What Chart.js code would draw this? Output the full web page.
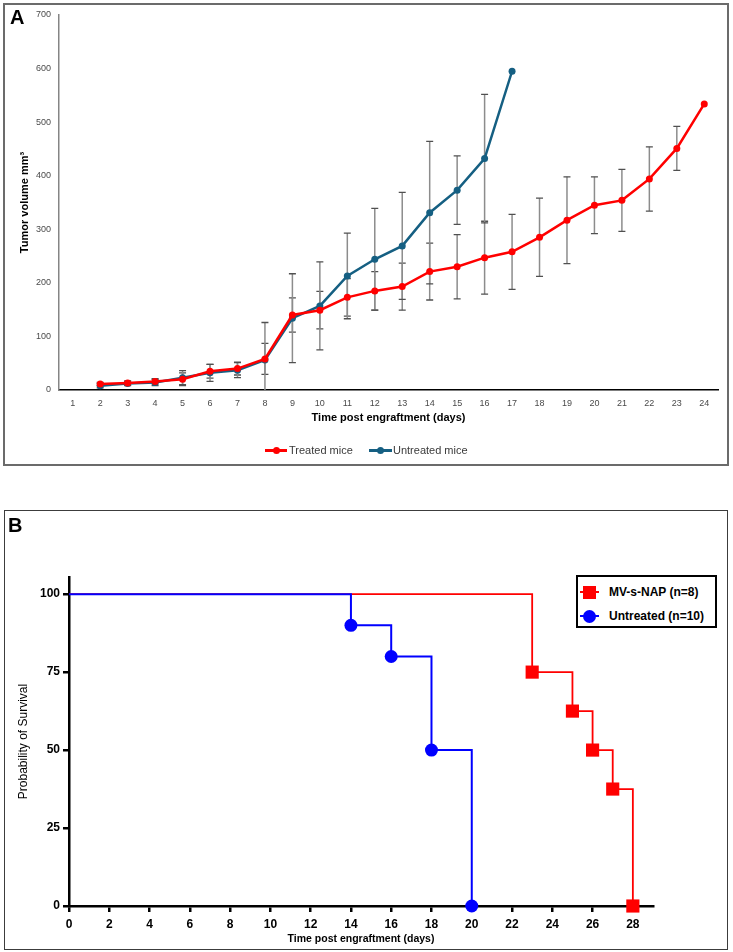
<!DOCTYPE html>
<html>
<head>
<meta charset="utf-8">
<script src="https://cdn.jsdelivr.net/npm/chart.js@4.4.1/dist/chart.umd.min.js"></script>
<style>
body { margin: 0; background: #fff; }
#page { position: relative; width: 733px; height: 952px; font-family: 'Liberation Sans', Arial, sans-serif; overflow: hidden; }
.box { position: absolute; box-sizing: border-box; }
#boxA { left: 3px; top: 3px; width: 726px; height: 463px; border: 2px solid #6b6b6b; }
#boxB { left: 4px; top: 510px; width: 724px; height: 440px; border: 1.5px solid #3c3c3c; }
canvas { position: absolute; left: 0; }
#chartA { top: 0; }
#chartB { top: 490px; }
.letter { position: absolute; font: bold 20px 'Liberation Sans', Arial, sans-serif; line-height: 20px; color: #000; }
.lgA { position: absolute; font-size: 11px; line-height: 14px; color: #3a3a3a; white-space: nowrap; }
.seg { position: absolute; height: 2.5px; }
.dot { position: absolute; width: 7px; height: 7px; border-radius: 50%; }
#legB { position: absolute; left: 576px; top: 575px; width: 141px; height: 53px; box-sizing: border-box; border: 2px solid #000; background: #fff; }
.lgB { position: absolute; font-weight: bold; font-size: 12px; line-height: 14px; color: #000; white-space: nowrap; }
</style>
</head>
<body>
<div id="page">
  <div class="box" id="boxA"></div>
  <div class="box" id="boxB"></div>
  <canvas id="chartA" width="733" height="470"></canvas>
  <canvas id="chartB" width="733" height="460"></canvas>
  <div class="letter" style="left:10px;top:7px">A</div>
  <div class="letter" style="left:8px;top:515px">B</div>

  <!-- legend panel A -->
  <div class="seg" style="left:265px;top:449px;width:22px;background:#ff0000"></div>
  <div class="dot" style="left:272.5px;top:446.8px;background:#ff0000"></div>
  <div class="lgA" style="left:289px;top:443px">Treated mice</div>
  <div class="seg" style="left:369px;top:449px;width:23px;background:#155f82"></div>
  <div class="dot" style="left:377px;top:446.8px;background:#155f82"></div>
  <div class="lgA" style="left:393px;top:443px">Untreated mice</div>

  <!-- legend panel B -->
  <div id="legB"></div>
  <div class="seg" style="left:580px;top:591px;width:19px;height:2px;background:#ff0000"></div>
  <div style="position:absolute;left:583px;top:585.5px;width:13px;height:13px;background:#ff0000"></div>
  <div class="lgB" style="left:609px;top:585px">MV-s-NAP (n=8)</div>
  <div class="seg" style="left:580px;top:615px;width:19px;height:2px;background:#0000ff"></div>
  <div style="position:absolute;left:583px;top:609.5px;width:13px;height:13px;border-radius:50%;background:#0000ff"></div>
  <div class="lgB" style="left:609px;top:609px">Untreated (n=10)</div>
</div>

<script>
// Panel A - tumour volume per day (mean and error)
var days = ['1','2','3','4','5','6','7','8','9','10','11','12','13','14','15','16','17','18','19','20','21','22','23','24'];
var treatedVolume = [null, 11, 13, 16, 20, 35, 40, 58, 140, 149, 173, 185, 193, 221, 230, 247, 258, 285, 317, 345, 354, 394, 451, 534];
var treatedErr = [null, 3, 4, 5, 12, 13, 12, 29, 32, 35, 35, 36, 44, 53, 60, 68, 70, 73, 81, 53, 58, 60, 41, null];
var untreatedVolume = [null, 8, 12, 14, 23, 32, 37, 56, 134, 157, 213, 244, 269, 331, 373, 432, 595];
var untreatedErr = [null, 4, 4, 6, 13, 16, 14, 70, 83, 82, 80, 95, 100, 133, 64, 120, null];
var volumeTicks = [0, 100, 200, 300, 400, 500, 600, 700];

// Panel B - Kaplan-Meier survival
var kmTreatedDays = [0, 23, 25, 26, 27, 28];
var kmTreatedSurv = [100, 75, 62.5, 50, 37.5, 0];
var kmUntreatedDays = [0, 14, 16, 18, 20];
var kmUntreatedSurv = [100, 90, 80, 50, 0];
var kmDayTicks = [0, 2, 4, 6, 8, 10, 12, 14, 16, 18, 20, 22, 24, 26, 28];
var kmSurvTicks = [0, 25, 50, 75, 100];

Chart.defaults.font.family = "'Liberation Sans', Arial, sans-serif";

// draws the vertical error bars under the lines of panel A
var errLists = [treatedErr, untreatedErr];
const errorBars = {
    id: 'errorBars',
    beforeDatasetsDraw(chart) {
        const ctx = chart.ctx, area = chart.chartArea, y = chart.scales.y;
        ctx.save();
        ctx.beginPath();
        ctx.rect(area.left, area.top, area.right - area.left, area.bottom - area.top);
        ctx.clip();
        chart.data.datasets.forEach(function (ds, i) {
            const meta = chart.getDatasetMeta(i);
            errLists[i].forEach(function (e, j) {
                if (e == null || ds.data[j] == null) return;
                const px = meta.data[j].x;
                const top = y.getPixelForValue(ds.data[j] + e);
                const bot = y.getPixelForValue(ds.data[j] - e);
                ctx.strokeStyle = '#8c8c8c';
                ctx.lineWidth = 1.5;
                ctx.beginPath();
                ctx.moveTo(px, top); ctx.lineTo(px, bot);
                ctx.stroke();
                ctx.strokeStyle = '#505050';
                ctx.lineWidth = 1.3;
                ctx.beginPath();
                ctx.moveTo(px - 3.5, top); ctx.lineTo(px + 3.5, top);
                ctx.moveTo(px - 3.5, bot); ctx.lineTo(px + 3.5, bot);
                ctx.stroke();
            });
        });
        ctx.restore();
    }
};

const chartA = new Chart(document.getElementById('chartA'), {
    type: 'line',
    data: {
        labels: days,
        datasets: [{
            label: 'Treated mice',
            data: treatedVolume,
            borderColor: '#ff0000',
            backgroundColor: '#ff0000',
            borderWidth: 2.5,
            pointRadius: 3.5,
            pointBorderWidth: 0
        }, {
            label: 'Untreated mice',
            data: untreatedVolume,
            borderColor: '#155f82',
            backgroundColor: '#155f82',
            borderWidth: 2.5,
            pointRadius: 3.5,
            pointBorderWidth: 0
        }]
    },
    options: {
        responsive: false,
        animation: false,
        events: [],
        layout: { padding: { top: 15, right: 15, left: 0, bottom: 0 } },
        plugins: { legend: { display: false }, tooltip: { enabled: false } },
        scales: {
            x: {
                offset: true,
                grid: { display: false, drawTicks: false },
                border: { color: '#000', width: 1.5 },
                ticks: { color: '#4a4a4a', font: { size: 9 }, padding: 8, maxRotation: 0, autoSkip: false },
                title: { display: true, text: 'Time post engraftment (days)', color: '#000',
                         font: { size: 11, weight: 'bold' }, padding: { top: 0, bottom: 45 } },
                afterFit: function (s) { s.height = 80; }
            },
            y: {
                min: 0,
                max: 700,
                afterBuildTicks: function (s) { s.ticks = volumeTicks.map(v => ({ value: v })); },
                grid: { display: false, drawTicks: false },
                border: { color: '#858585', width: 1.5 },
                ticks: { color: '#4a4a4a', font: { size: 9 }, padding: 8 },
                title: { display: true, text: 'Tumor volume mm³', color: '#000',
                         font: { size: 11, weight: 'bold' }, padding: { top: 18, bottom: 0 } },
                afterFit: function (s) { s.width = 59; }
            }
        }
    },
    plugins: [errorBars]
});

function toPoints(xs, ys) {
    return xs.map((d, i) => ({ x: d, y: ys[i] }));
}

const chartB = new Chart(document.getElementById('chartB'), {
    type: 'line',
    data: {
        datasets: [{
            label: 'MV-s-NAP (n=8)',
            data: toPoints(kmTreatedDays, kmTreatedSurv),
            borderColor: '#ff0000',
            backgroundColor: '#ff0000',
            borderWidth: 1.8,
            stepped: true,
            pointStyle: 'rect',
            pointRadius: kmTreatedDays.map((d, i) => i === 0 ? 0 : 9.3),
            pointBorderWidth: 0,
            clip: false,
            order: 1
        }, {
            label: 'Untreated (n=10)',
            data: toPoints(kmUntreatedDays, kmUntreatedSurv),
            borderColor: '#0000ff',
            backgroundColor: '#0000ff',
            borderWidth: 2,
            stepped: true,
            pointStyle: 'circle',
            pointRadius: kmUntreatedDays.map((d, i) => i === 0 ? 0 : 6.5),
            pointBorderWidth: 0,
            clip: false,
            order: 0
        }]
    },
    options: {
        responsive: false,
        animation: false,
        events: [],
        layout: { padding: { top: 87, right: 80, left: 0, bottom: 0 } },
        plugins: { legend: { display: false }, tooltip: { enabled: false } },
        scales: {
            x: {
                type: 'linear',
                min: 0,
                max: 29,
                afterBuildTicks: function (s) { s.ticks = kmDayTicks.map(v => ({ value: v })); },
                grid: { drawOnChartArea: false, drawTicks: true, tickLength: 6, color: '#000', lineWidth: 2.5 },
                border: { color: '#000', width: 2.5 },
                ticks: { color: '#000', font: { size: 12, weight: 'bold' }, padding: 5, autoSkip: false, maxRotation: 0 },
                title: { display: true, text: 'Time post engraftment (days)', color: '#000',
                         font: { size: 10.5, weight: 'bold' }, padding: { top: 0, bottom: 4.5 } },
                afterFit: function (s) { s.height = 44; }
            },
            y: {
                min: 0,
                max: 105.5,
                afterBuildTicks: function (s) { s.ticks = kmSurvTicks.map(v => ({ value: v })); },
                grid: { drawOnChartArea: false, drawTicks: true, tickLength: 6, color: '#000', lineWidth: 2.5 },
                border: { color: '#000', width: 2.5 },
                ticks: { color: '#000', font: { size: 12, weight: 'bold' }, padding: 3 },
                title: { display: true, text: 'Probability of Survival', color: '#000',
                         font: { size: 12 }, padding: { top: 16, bottom: 0 } },
                afterFit: function (s) { s.width = 69; }
            }
        }
    }
});
</script>
</body>
</html>
